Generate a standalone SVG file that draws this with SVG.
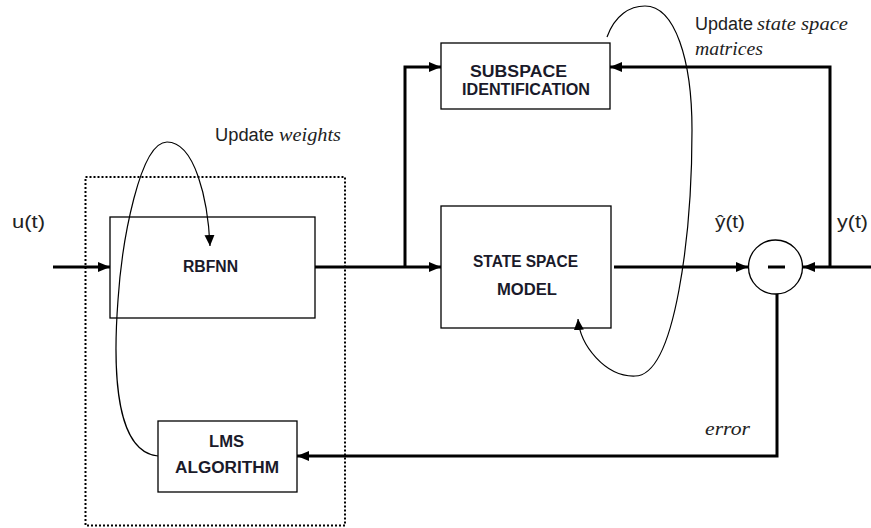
<svg xmlns="http://www.w3.org/2000/svg" width="871" height="528" viewBox="0 0 871 528">
<defs>
<style>
.box{fill:#fff;stroke:#000;stroke-width:1.3}
.lbl{font-family:"Liberation Sans",Arial,sans-serif;font-weight:bold;font-size:16px;fill:#1a1a2a}
.txt{font-family:"Liberation Sans",Arial,sans-serif;font-size:18px;fill:#222}
.it{font-family:"Liberation Serif","Times New Roman",serif;font-style:italic;font-size:18px;fill:#222}
.thick{fill:none;stroke:#000;stroke-width:3}
.thin{fill:none;stroke:#000;stroke-width:1.2}
</style>
<marker id="ah" markerUnits="userSpaceOnUse" markerWidth="14" markerHeight="12" refX="12" refY="6" orient="auto">
<path d="M0,1 L12,6 L0,11 Z" fill="#000"/>
</marker>
<marker id="ahs" markerUnits="userSpaceOnUse" markerWidth="12" markerHeight="12" refX="11" refY="6" orient="auto">
<path d="M0,1 L11,6 L0,11 Z" fill="#000"/>
</marker>
</defs>
<rect width="871" height="528" fill="#fff"/>

<g id="dotted-group">
<rect x="85.5" y="177" width="259.5" height="348.5" fill="none" stroke="#000" stroke-width="2" stroke-dasharray="2,2"/>
</g>

<g id="rbfnn">
<rect class="box" x="110" y="217" width="205" height="101"/>
<text class="lbl" x="183" y="272" textLength="55" lengthAdjust="spacingAndGlyphs">RBFNN</text>
</g>

<g id="lms">
<rect class="box" x="158" y="421" width="139" height="71"/>
<text class="lbl" x="209" y="447" textLength="35" lengthAdjust="spacingAndGlyphs">LMS</text>
<text class="lbl" x="175" y="473" textLength="104" lengthAdjust="spacingAndGlyphs">ALGORITHM</text>
</g>

<g id="subspace">
<rect class="box" x="441" y="43" width="169" height="66"/>
<text class="lbl" x="470" y="77" textLength="97" lengthAdjust="spacingAndGlyphs">SUBSPACE</text>
<text class="lbl" x="462" y="95" textLength="128" lengthAdjust="spacingAndGlyphs">IDENTIFICATION</text>
</g>

<g id="statespace">
<rect class="box" x="441" y="206" width="170" height="122"/>
<text class="lbl" x="473" y="267" textLength="105" lengthAdjust="spacingAndGlyphs">STATE SPACE</text>
<text class="lbl" x="497" y="295" textLength="60" lengthAdjust="spacingAndGlyphs">MODEL</text>
</g>

<g id="sum">
<circle cx="775.5" cy="267" r="27" fill="#fff" stroke="#000" stroke-width="1.3"/>
<line x1="768" y1="267" x2="785" y2="267" stroke="#000" stroke-width="3"/>
</g>

<g id="connectors">
<line class="thick" x1="53" y1="267" x2="110" y2="267" marker-end="url(#ah)"/>
<line class="thick" x1="315" y1="267" x2="441" y2="267" marker-end="url(#ah)"/>
<polyline class="thick" points="405,267 405,67 441,67" marker-end="url(#ah)"/>
<line class="thick" x1="614" y1="267" x2="748" y2="267" marker-end="url(#ah)"/>
<line class="thick" x1="871" y1="267" x2="803" y2="267" marker-end="url(#ah)"/>
<polyline class="thick" points="830,267 830,67 610,67" marker-end="url(#ah)"/>
<polyline class="thick" points="777,294 777,456 297,456" marker-end="url(#ah)"/>
<path class="thin" d="M158,456 C118,452 112,380 118,300 C122,240 140,142 167,142 C195,142 208,200 210,246" marker-end="url(#ahs)"/>
<path class="thin" d="M607,37 C615,15 630,6 645,6 C675,6 692,60 692,130 C692,230 676,376 635,376 C605,377 580,345 578,319" marker-end="url(#ahs)"/>
</g>

<g id="labels">
<text class="txt" x="12" y="228" textLength="33" lengthAdjust="spacingAndGlyphs">u(t)</text>
<text class="txt" x="215" y="141" textLength="59" lengthAdjust="spacingAndGlyphs">Update</text>
<text class="it" x="279" y="141" textLength="62" lengthAdjust="spacingAndGlyphs">weights</text>
<text class="txt" x="695" y="30" textLength="58" lengthAdjust="spacingAndGlyphs">Update</text>
<text class="it" x="757" y="30" textLength="91" lengthAdjust="spacingAndGlyphs">state space</text>
<text class="it" x="695" y="55" textLength="68" lengthAdjust="spacingAndGlyphs">matrices</text>
<text class="txt" x="715" y="228" textLength="30" lengthAdjust="spacingAndGlyphs">ŷ(t)</text>
<text class="txt" x="837" y="228" textLength="31" lengthAdjust="spacingAndGlyphs">y(t)</text>
<text class="it" x="705" y="435" textLength="45" lengthAdjust="spacingAndGlyphs">error</text>
</g>
</svg>
